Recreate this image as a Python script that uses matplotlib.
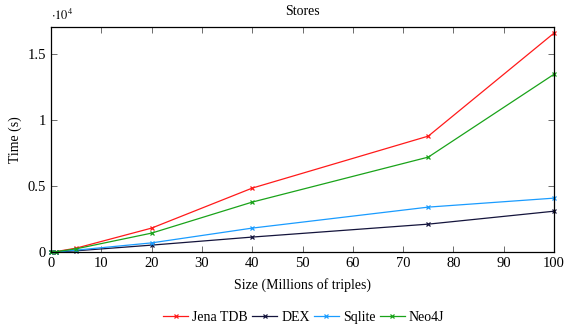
import matplotlib
matplotlib.use("Agg")
import matplotlib.pyplot as plt
from matplotlib.ticker import FuncFormatter

plt.rcParams["font.family"] = ["Liberation Serif", "DejaVu Serif"]
plt.rcParams["mathtext.fontset"] = "stix"

sizes = [0, 1, 5, 20, 40, 75, 100]
jena = [0, 40, 300, 1820, 4850, 8790, 16600]
dex = [0, 10, 100, 530, 1140, 2120, 3100]
sqlite = [0, 15, 150, 700, 1820, 3410, 4090]
neo4j = [0, 30, 250, 1440, 3790, 7200, 13480]

series = [
    ("Jena TDB", jena, "#ff1a1a"),
    ("DEX", dex, "#14143c"),
    ("Sqlite", sqlite, "#1a9cff"),
    ("Neo4J", neo4j, "#1aa31a"),
]

fig = plt.figure(figsize=(5.73, 3.27), dpi=100)
ax = fig.add_axes([0.089, 0.229, 0.878, 0.688])

for name, vals, col in series:
    ax.plot(sizes, vals, color=col, marker="x", markersize=3.5,
            linewidth=0.9, markeredgewidth=0.9, label=name, clip_on=False)

ax.set_xlim(0, 100)
ax.set_ylim(0, 17045)
ax.set_xticks(range(0, 101, 10))
ax.set_yticks([0, 5000, 10000, 15000])

def fmt(v, pos):
    return "%g" % (v / 1e4)
ax.yaxis.set_major_formatter(FuncFormatter(fmt))
ax.tick_params(direction="in", top=True, right=True, labelsize=10.5,
               length=4, width=0.6, color="#555555")
for sp in ax.spines.values():
    sp.set_linewidth(0.9)

ax.text(0.0, 1.02, r"$\cdot10^4$", transform=ax.transAxes, fontsize=9,
        ha="left", va="bottom")
ax.set_title("Stores", fontsize=10, pad=9)
ax.set_xlabel("Size (Millions of triples)", fontsize=10, labelpad=6)
ax.set_ylabel("Time (s)", fontsize=10, labelpad=4)

fig.legend(loc="lower center", ncol=4, frameon=False, fontsize=10,
           bbox_to_anchor=(0.53, -0.03), handlelength=1.8, columnspacing=0.3,
           handletextpad=0.3)

fig.savefig("out.png", dpi=100)
